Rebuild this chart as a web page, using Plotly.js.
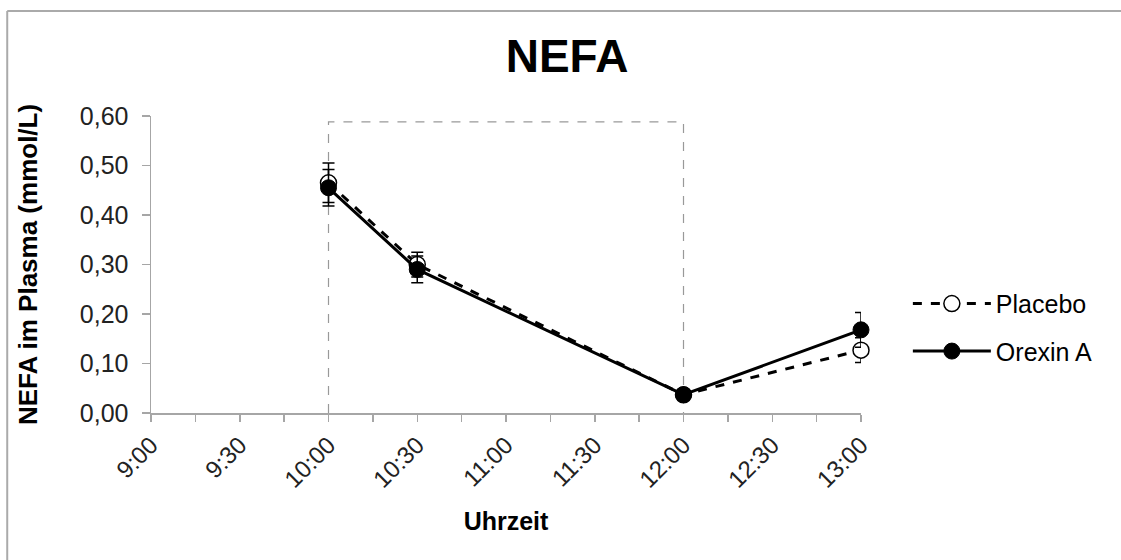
<!DOCTYPE html>
<html>
<head>
<meta charset="utf-8">
<script src="https://cdn.plot.ly/plotly-3.0.1.min.js"></script>
<style>
html,body{margin:0;padding:0;background:#fff;}
#chart{width:1121px;height:560px;}
</style>
</head>
<body>
<div id="chart"></div>
<script>
// ---- data ----
var times = ["10:00", "10:30", "12:00", "13:00"];
var placebo = [0.465, 0.300, 0.037, 0.127];
var placeboErr = [0.040, 0.025, 0.006, 0.025];
var orexin = [0.455, 0.290, 0.037, 0.168];
var orexinErr = [0.037, 0.027, 0.006, 0.035];
var tickLabels = ["9:00", "9:30", "10:00", "10:30", "11:00", "11:30", "12:00", "12:30", "13:00"];
var yTickLabels = ["0,00", "0,10", "0,20", "0,30", "0,40", "0,50", "0,60"];
var yTickValues = [0, 0.1, 0.2, 0.3, 0.4, 0.5, 0.6];
var windowStart = "10:00", windowEnd = "12:00", windowTop = 0.588;

function toMin(t){ var p = t.split(":"); return (+p[0]) * 60 + (+p[1]); }
var xs = times.map(toMin);
var tickVals = tickLabels.map(toMin);

var font = "Liberation Sans, Arial, sans-serif";
var axisGrey = "#a6a6a6";

var traces = [
  {
    x: xs, y: placebo, name: "Placebo", type: "scatter", mode: "lines+markers",
    legendgroup: "a", cliponaxis: false,
    line: {color: "#000", width: 3, dash: "dash"},
    marker: {symbol: "circle", size: 16, color: "#fff", line: {color: "#000", width: 1.5}},
    error_y: {type: "data", array: placeboErr, visible: true, color: "#000", thickness: 1.5, width: 6}
  },
  {
    x: xs, y: orexin, name: "Orexin A", type: "scatter", mode: "lines+markers",
    legendgroup: "b", cliponaxis: false,
    line: {color: "#000", width: 3},
    marker: {symbol: "circle", size: 16, color: "#000", line: {color: "#000", width: 1}},
    error_y: {type: "data", array: orexinErr, visible: true, color: "#000", thickness: 1.5, width: 6}
  }
];

var x0 = toMin(windowStart), x1 = toMin(windowEnd);

var layout = {
  width: 1121, height: 560,
  paper_bgcolor: "#fff", plot_bgcolor: "#fff",
  margin: {l: 151, r: 260, t: 116, b: 147},
  font: {family: font, color: "#000", size: 25},
  title: {text: "<b>NEFA</b>", font: {family: font, size: 46, color: "#000"}, x: 0.586, xref: "paper", xanchor: "center", y: 0.9, yanchor: "middle"},
  showlegend: true,
  legend: {x: 1.066, y: 0.445, xanchor: "left", yanchor: "top", font: {family: font, size: 25, color: "#000"},
           bgcolor: "rgba(0,0,0,0)", tracegroupgap: 12, itemwidth: 78},
  xaxis: {
    range: [toMin("9:00"), toMin("13:00")],
    tickmode: "array", tickvals: tickVals, ticktext: tickLabels,
    tickangle: -45,
    ticks: "outside", ticklen: 7, tickcolor: axisGrey, tickwidth: 1.5,
    minor: {dtick: 15, tick0: 0, ticks: "outside", ticklen: 7, tickcolor: axisGrey, tickwidth: 1.5, showgrid: false},
    showline: true, linecolor: axisGrey, linewidth: 1.5,
    showgrid: false, zeroline: false,
    tickfont: {family: font, size: 24, color: "#222"},
    title: {text: "<b>Uhrzeit</b>", font: {family: font, size: 25, color: "#000"}, standoff: 20},
    automargin: false
  },
  yaxis: {
    range: [0, 0.6],
    tickmode: "array", tickvals: yTickValues, ticktext: yTickLabels,
    ticks: "outside", ticklen: 8, tickcolor: axisGrey, tickwidth: 1.5,
    showline: true, linecolor: axisGrey, linewidth: 1.5,
    showgrid: false, zeroline: false,
    tickfont: {family: font, size: 25, color: "#222"},
    ticklabelstandoff: 8,
    title: {text: "<b>NEFA im Plasma (mmol/L)</b>", font: {family: font, size: 26, color: "#000"}, standoff: 34},
    automargin: false
  },
  shapes: [
    {type: "path", xref: "x", yref: "y",
     path: "M" + x0 + ",0 L" + x0 + "," + windowTop + " L" + x1 + "," + windowTop + " L" + x1 + ",0",
     line: {color: "#999", width: 1.2, dash: "dash"}, fillcolor: "rgba(0,0,0,0)", layer: "below"},
    {type: "line", xref: "paper", yref: "paper", x0: -0.2025, x1: 1.370, y0: 1.3535, y1: 1.3535,
     line: {color: "#aaa", width: 2}},
    {type: "line", xref: "paper", yref: "paper", x0: -0.2025, x1: -0.2025, y0: 1.3535, y1: -0.50,
     line: {color: "#aaa", width: 2}}
  ]
};

Plotly.newPlot("chart", traces, layout, {displayModeBar: false, staticPlot: true});
</script>
</body>
</html>
